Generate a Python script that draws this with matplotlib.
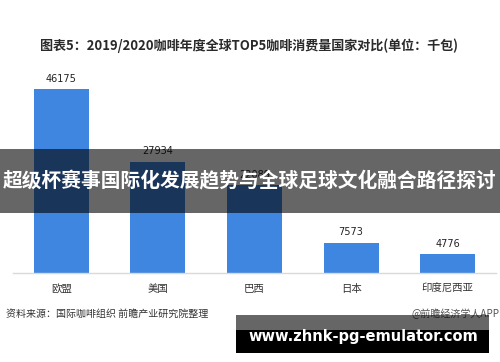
import matplotlib
matplotlib.use("Agg")
import matplotlib.pyplot as plt
from matplotlib.patches import Rectangle

plt.rcParams['font.family'] = ['Noto Sans CJK SC', 'DejaVu Sans']

categories = ["欧盟", "美国", "巴西", "日本", "印度尼西亚"]
values = [46175, 27934, 22089, 7573, 4776]
title = "图表5：2019/2020咖啡年度全球TOP5咖啡消费量国家对比(单位：千包)"
source = "资料来源：国际咖啡组织 前瞻产业研究院整理"
credit = "@前瞻经济学人APP"
banner = "超级杯赛事国际化发展趋势与全球足球文化融合路径探讨"
site = "www.zhnk-pg-emulator.com"

W, H = 500, 362
fig = plt.figure(figsize=(W / 100, H / 100), dpi=100)

def fx(x):
    return x / W

def fy(y):
    return 1 - y / H

# axes: x 13..496, baseline y=273, top y=60
base_y, top_y = 273, 60
ax = fig.add_axes([fx(13), fy(base_y), fx(496 - 13), (base_y - top_y) / H])
ymax = values[0] * (base_y - top_y) / (base_y - 89)
x = range(len(categories))
bars = ax.bar(x, values, width=0.57, color="#3f86e0", zorder=2)
ax.set_xlim(-0.5, len(categories) - 0.5)
ax.set_ylim(0, ymax)
for s in ["top", "right", "left"]:
    ax.spines[s].set_visible(False)
ax.spines["bottom"].set_color("#d9d9d9")
ax.spines["bottom"].set_linewidth(1.0)
ax.set_yticks([])
ax.set_xticks(list(x))
ax.set_xticklabels(categories, fontsize=7.5, color="#333333")
ax.tick_params(axis="x", length=0, pad=8)
for xi, v in zip(x, values):
    ax.annotate(f"{v}", (xi, v), xytext=(0, 7.5), textcoords="offset points",
                ha="center", va="center", fontsize=7, color="#222222",
                family="DejaVu Sans")

fig.text(fx(40), fy(46), title, fontsize=9.4, fontweight="bold",
         color="#2a2a2a", ha="left", va="center")
fig.text(fx(6), fy(314), source, fontsize=7.2, color="#333333",
         ha="left", va="center")
fig.text(fx(499), fy(314), credit, fontsize=7.2, color="#555555",
         ha="right", va="center")

# overlay banner
fig.add_artist(Rectangle((0, fy(213)), 1, (213 - 149) / H,
                         transform=fig.transFigure, facecolor="black",
                         alpha=0.6, edgecolor="none", zorder=5))
fig.text(0.5, fy(181), banner, fontsize=14.2, fontweight="bold",
         color="white", ha="center", va="center", zorder=6)

# bottom site banner
fig.add_artist(Rectangle((fx(236), fy(330)), fx(489 - 236), (330 - 315) / H,
                         transform=fig.transFigure, facecolor="black",
                         alpha=0.6, edgecolor="none", zorder=5))
fig.add_artist(Rectangle((fx(236), fy(353)), fx(489 - 236), (353 - 330) / H,
                         transform=fig.transFigure, facecolor="black",
                         edgecolor="none", zorder=5))
fig.text(fx(363), fy(337), site, fontsize=10.5, fontweight="bold",
         color="white", ha="center", va="center", zorder=6,
         family="DejaVu Sans")

fig.savefig("out.png", dpi=100)
